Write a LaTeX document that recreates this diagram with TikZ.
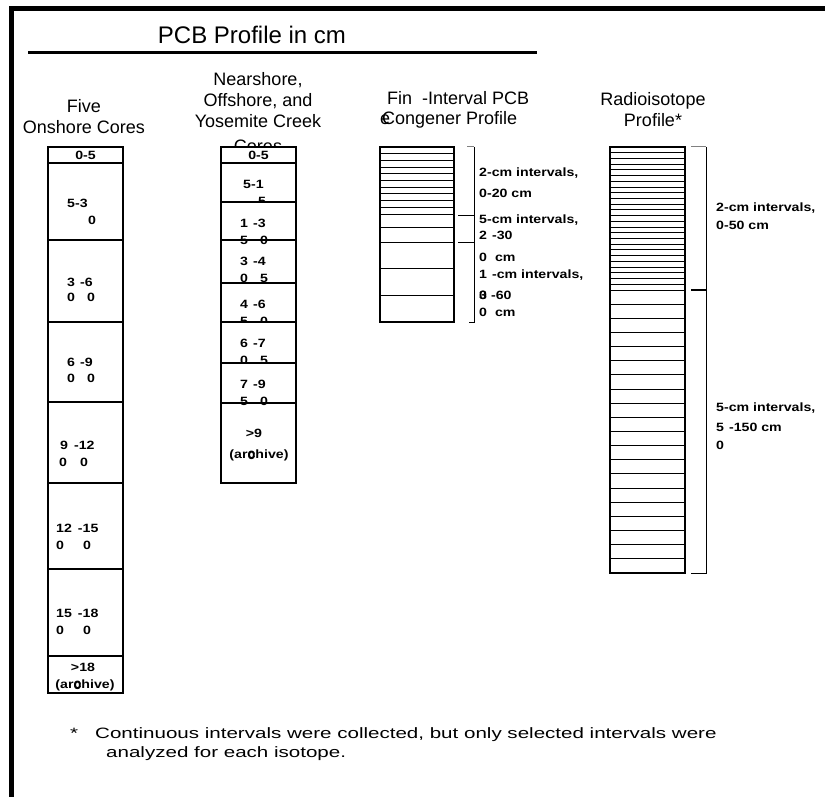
\documentclass[tikz,border=0pt]{standalone}
\usepackage{fontspec}
\setmainfont{Liberation Sans}
\newfontfamily\lblfont{Liberation Sans Bold}[FakeStretch=1.18]
\newfontfamily\notefont{Liberation Sans}[FakeStretch=1.37]

\begin{document}
\begin{tikzpicture}[x=1pt, y=-1pt, every node/.style={inner sep=0pt},
	head/.style={font=\fontsize{18}{21.3}\selectfont, align=center, anchor=north},
	lbl/.style={font=\lblfont\fontsize{12}{14}\selectfont, anchor=west},
	note/.style={font=\notefont\fontsize{15}{17}\selectfont, anchor=base west},
	cell/.style={draw, fill=white, line width=1.5pt}, rule/.style={line width=1pt}]

	\useasboundingbox (0,0) rectangle (825,797);
	\draw[line width=5pt] (11,797) -- (11,8.5) -- (825,8.5);

	\node[font=\fontsize{24}{27}\selectfont, anchor=north] (title) at (252,26) {PCB Profile in cm};
	\draw[line width=3pt] (28,53) -- (537,53);

	\node[head] (onshore) at (84,99) {Five\\Onshore Cores};
	\node[head] (nearshore) at (258,72) {Nearshore,\\Offshore, and\\Yosemite Creek\\[3pt]Cores};
	\node[head, anchor=base west] (fine) at (387,105) {Fin\phantom{e}-Interval PCB};
	\node[head, anchor=base west] (congener) at (382,125) {Congener Profile};
	\node[head, anchor=base west] (finee) at (380,125) {e};
	\node[head] (radio) at (653,92) {Radioisotope\\Profile*};

	% onshore cores
	\foreach \a/\b in {147/163,163/240,240/322,322/402,402/483,483/569,569/656,656/693}
		\draw[cell] (48,\a) rectangle (123,\b);
	\node[lbl, anchor=center] (on05) at (85.5,155) {0-5};
	\node[lbl] (on1a) at (67,203) {5-3};
	\node[lbl] (on1b) at (88,220) {0};
	\node[lbl] (on2a) at (67,282) {3\hspace{5pt}-6};
	\node[lbl] (on2b) at (67,297) {0\hspace{12pt}0};
	\node[lbl] (on3a) at (67,362) {6\hspace{5pt}-9};
	\node[lbl] (on3b) at (67,378) {0\hspace{12pt}0};
	\node[lbl] (on4a) at (60,445) {9\hspace{6pt}-12};
	\node[lbl] (on4b) at (59,462) {0\hspace{13pt}0};
	\node[lbl] (on5a) at (56,528) {12\hspace{6pt}-15};
	\node[lbl] (on5b) at (56,545) {0\hspace{19pt}0};
	\node[lbl] (on6a) at (56,613) {15\hspace{6pt}-18};
	\node[lbl] (on6b) at (56,630) {0\hspace{19pt}0};
	\node[lbl, anchor=center] (on7a) at (83,667) {>18};
	\node[lbl, anchor=center] (on7b) at (85,685) {(archive)};
	\node[lbl, anchor=center] (on7c) at (77.5,685) {0};

	% nearshore, offshore and yosemite creek cores
	\draw[cell] (221,147) rectangle (296,163);
	\node[lbl, anchor=center] (ne05) at (258.5,155) {0-5};
	\foreach \a/\b/\m/\n in {163/202/{\hspace{3pt}5-1}/{\hspace{18pt}5}, 240/283/{3\hspace{5pt}-4}/{0\hspace{12pt}5},
		283/322/{4\hspace{5pt}-6}/{5\hspace{12pt}0}, 322/363/{6\hspace{5pt}-7}/{0\hspace{12pt}5}} {
		\draw[cell] (221,\a) rectangle (296,\b);
		\node[lbl] (ne\a a) at (240,{\a+21}) {\m};
		\node[lbl] (ne\a b) at (240,{\a+38.5}) {\n};
	}
	\draw[cell] (221,403) rectangle (296,483);
	\node[lbl, anchor=center] (ne90a) at (254,433) {>9};
	\node[lbl, anchor=center] (ne90b) at (259,455) {(archive)};
	\node[lbl, anchor=center] (ne90c) at (251.5,455) {0};
	\foreach \a/\b/\m/\n in {202/240/{1\hspace{5pt}-3}/{5\hspace{12pt}0}, 363/403/{7\hspace{5pt}-9}/{5\hspace{12pt}0}} {
		\draw[cell] (221,\a) rectangle (296,\b);
		\node[lbl] (ne\a a) at (240,{\a+21}) {\m};
		\node[lbl] (ne\a b) at (240,{\a+38.5}) {\n};
	}

	% fine-interval profile
	\foreach \i in {1,...,9}
		\draw[rule] (380,{147+6.7*\i}) -- (454,{147+6.7*\i});
	\foreach \y in {214,227,242,268,295}
		\draw[rule] (380,\y) -- (454,\y);
	\draw[line width=1.5pt] (380,147) rectangle (454,322);
	\draw[rule, gray] (467,147) -- (474,147);
	\draw[rule] (474,147) -- (474,322) -- (469,322);
	\draw[rule] (458,215) -- (474,215);
	\draw[rule] (458,242) -- (474,242);
	\node[lbl] (fi1) at (479,173) {2-cm intervals,};
	\node[lbl] (fi2) at (479,193) {0-20 cm};
	\node[lbl] (fi3) at (479,220) {5-cm intervals,};
	\node[lbl] (fi4) at (479,235) {2\hspace{5pt}-30};
	\node[lbl] (fi5) at (479,257) {0\hspace{8pt}cm};
	\node[lbl] (fi6) at (479,275) {1\hspace{5pt}-cm intervals,};
	\node[lbl] (fi7) at (479,295) {0\hspace{4pt}-60};
	\node[lbl] (fi8) at (479,295) {3};
	\node[lbl] (fi9) at (479,312) {0\hspace{8pt}cm};

	% radioisotope profile
	\foreach \i in {1,...,24}
		\draw[rule] (610,{147+5.72*\i}) -- (685,{147+5.72*\i});
	\foreach \i in {0,...,19}
		\draw[rule] (610,{290+14.15*\i}) -- (685,{290+14.15*\i});
	\draw[line width=1.5pt] (610,147) rectangle (685,573);
	\draw[rule, gray] (691,147) -- (706,147);
	\draw[rule] (706,147) -- (706,573) -- (691,573);
	\draw[line width=1.5pt] (691,290) -- (706,290);
	\node[lbl] (ra1) at (716,208) {2-cm intervals,};
	\node[lbl] (ra2) at (716,225) {0-50 cm};
	\node[lbl] (ra3) at (716,408) {5-cm intervals,};
	\node[lbl] (ra4) at (716,427) {5\hspace{5pt}-150 cm};
	\node[lbl] (ra5) at (716,445) {0};

	\node[note] (star) at (70,738) {*};
	\node[note] (note1) at (95,738) {Continuous intervals were collected, but only selected intervals were};
	\node[note] (note2) at (106,757) {analyzed for each isotope.};
\end{tikzpicture}
\end{document}
